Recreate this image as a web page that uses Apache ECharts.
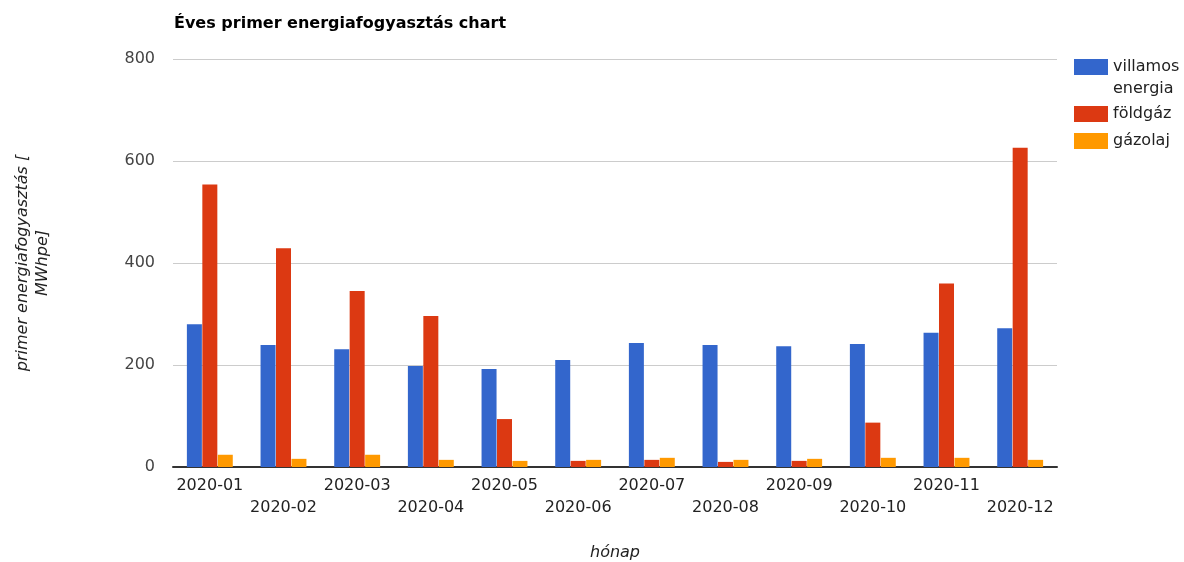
<!DOCTYPE html>
<html>
<head>
<meta charset="utf-8">
<script src="https://cdn.jsdelivr.net/npm/echarts@6/dist/echarts.min.js"></script>
<style>
  html, body { margin: 0; padding: 0; background: #fff; }
  #chart { width: 1184px; height: 562px; }
</style>
</head>
<body>
<div id="chart"></div>
<script>
const months = ['2020-01', '2020-02', '2020-03', '2020-04', '2020-05', '2020-06',
                '2020-07', '2020-08', '2020-09', '2020-10', '2020-11', '2020-12']
const villamosEnergia = [280, 239, 231, 198, 192, 210, 243, 239, 237, 241, 263, 272]
const foldgaz = [554, 429, 345, 296, 94, 12, 14, 10, 12, 87, 360, 626]
const gazolaj = [24, 16, 24, 14, 12, 14, 18, 14, 16, 18, 18, 14]
const yTicks = { min: 0, max: 800, interval: 200 }

const font = 'DejaVu Sans'

let chart = echarts.init(document.getElementById('chart'))

function bar(name, data, color) {
  return {
    name: name,
    type: 'bar',
    data: data,
    barWidth: 15,
    barGap: '3%',
    itemStyle: { color: color },
  }
}

const legendBase = {
  left: 1074,
  padding: 0,
  icon: 'rect',
  itemWidth: 34,
  itemHeight: 16,
  textStyle: { fontSize: 16, lineHeight: 22, color: '#222', fontFamily: font },
}

chart.setOption({
  animation: false,
  textStyle: { fontFamily: font },
  title: {
    text: 'Éves primer energiafogyasztás chart',
    left: 169,
    top: 11,
    textStyle: { fontSize: 16, fontWeight: 'bold', color: '#000', fontFamily: font },
  },
  // two legends: the wrapped first entry gets an empty leading line so
  // its first text line sits level with the swatch
  legend: [
    Object.assign({}, legendBase, {
      data: ['villamos energia'],
      formatter: () => '\nvillamos\nenergia',
      top: 34,
    }),
    Object.assign({}, legendBase, {
      data: ['földgáz', 'gázolaj'],
      orient: 'vertical',
      top: 103,
      itemGap: 5,
    }),
  ],
  grid: { left: 173, right: 127, top: 59, bottom: 95, outerBoundsMode: 'none' },
  xAxis: {
    type: 'category',
    data: months,
    name: 'hónap',
    nameLocation: 'middle',
    nameGap: 78,
    nameTextStyle: { fontSize: 16, fontStyle: 'italic', color: '#222', fontFamily: font },
    axisLine: { lineStyle: { color: '#333', width: 2 } },
    axisTick: { show: false },
    axisLabel: {
      interval: 0,
      margin: 8,
      fontSize: 16,
      lineHeight: 22,
      color: '#222',
      formatter: (v, i) => (i % 2 ? '\n' + v : v),
    },
  },
  yAxis: {
    type: 'value',
    min: yTicks.min,
    max: yTicks.max,
    interval: yTicks.interval,
    name: 'primer energiafogyasztás [\nMWhpe]',
    nameLocation: 'middle',
    nameGap: 120,
    nameTextStyle: { fontSize: 16, fontStyle: 'italic', lineHeight: 20, color: '#222', fontFamily: font },
    axisLine: { show: false },
    axisTick: { show: false },
    axisLabel: { fontSize: 16, margin: 18, color: '#444' },
    splitLine: { lineStyle: { color: '#ccc', width: 1 } },
  },
  series: [
    bar('villamos energia', villamosEnergia, '#3366cc'),
    bar('földgáz', foldgaz, '#dc3912'),
    bar('gázolaj', gazolaj, '#ff9900'),
  ],
})

window.addEventListener('resize', () => {
  chart.resize()
})
</script>
</body>
</html>
